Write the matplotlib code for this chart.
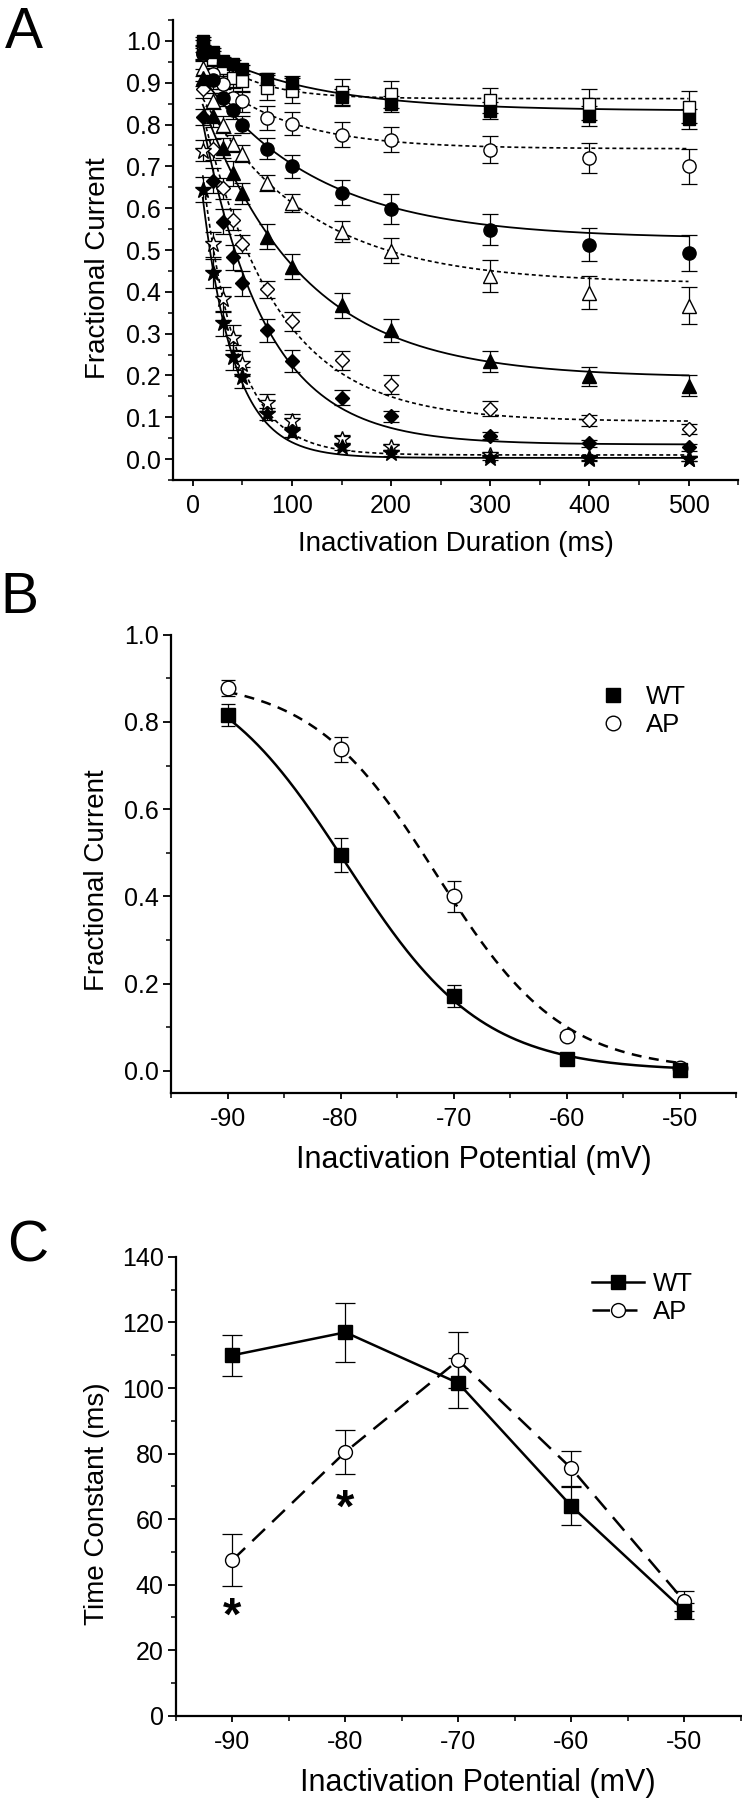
import numpy as np
import matplotlib
matplotlib.use("Agg")
import matplotlib.pyplot as plt
from matplotlib.lines import Line2D
from matplotlib.ticker import MultipleLocator, FormatStrFormatter

plt.rcParams['font.family'] = ['Liberation Sans', 'DejaVu Sans']
plt.rcParams['axes.unicode_minus'] = False

# --- panel A: fractional current vs inactivation duration ---
durations = [10, 20, 30, 40, 50, 75, 100, 150, 200, 300, 400, 500]

wt90 = [1.0, 0.974, 0.952, 0.944, 0.932, 0.909, 0.90, 0.866, 0.849, 0.833, 0.821, 0.813]
wt90_err = [0.01, 0.01, 0.01, 0.01, 0.01, 0.015, 0.015, 0.02, 0.02, 0.02, 0.024, 0.024]
ap90 = [0.988, 0.956, 0.936, 0.912, 0.904, 0.888, 0.881, 0.877, 0.872, 0.858, 0.848, 0.842]
ap90_err = [0.015, 0.02, 0.02, 0.025, 0.025, 0.03, 0.03, 0.033, 0.032, 0.03, 0.036, 0.038]
wt80 = [0.972, 0.906, 0.864, 0.834, 0.80, 0.742, 0.70, 0.637, 0.598, 0.549, 0.513, 0.493]
wt80_err = [0.015, 0.02, 0.02, 0.02, 0.02, 0.025, 0.028, 0.03, 0.035, 0.038, 0.04, 0.042]
ap80 = [0.968, 0.92, 0.896, 0.864, 0.856, 0.816, 0.802, 0.776, 0.764, 0.74, 0.72, 0.70]
ap80_err = [0.015, 0.02, 0.02, 0.025, 0.025, 0.028, 0.027, 0.03, 0.03, 0.033, 0.037, 0.042]
wt70 = [0.912, 0.82, 0.744, 0.684, 0.636, 0.532, 0.46, 0.368, 0.308, 0.234, 0.198, 0.176]
wt70_err = [0.02, 0.025, 0.025, 0.03, 0.025, 0.03, 0.03, 0.03, 0.028, 0.025, 0.022, 0.025]
ap70 = [0.935, 0.856, 0.80, 0.754, 0.73, 0.66, 0.613, 0.544, 0.498, 0.438, 0.398, 0.367]
ap70_err = [0.02, 0.02, 0.02, 0.02, 0.02, 0.02, 0.022, 0.025, 0.03, 0.038, 0.04, 0.045]
wt60 = [0.818, 0.666, 0.568, 0.4825, 0.42, 0.308, 0.234, 0.147, 0.102, 0.056, 0.038, 0.028]
wt60_err = [0.02, 0.03, 0.03, 0.03, 0.03, 0.028, 0.026, 0.018, 0.012, 0.008, 0.008, 0.008]
ap60 = [0.884, 0.741, 0.648, 0.572, 0.514, 0.406, 0.33, 0.236, 0.178, 0.121, 0.093, 0.072]
ap60_err = [0.02, 0.025, 0.025, 0.025, 0.022, 0.02, 0.023, 0.022, 0.023, 0.017, 0.013, 0.012]
wt50 = [0.644, 0.444, 0.325, 0.244, 0.196, 0.108, 0.064, 0.03, 0.014, 0.003, 0.0, 0.0]
wt50_err = [0.03, 0.035, 0.03, 0.03, 0.025, 0.015, 0.01, 0.008, 0.006, 0.005, 0.004, 0.004]
ap50 = [0.737, 0.514, 0.382, 0.29, 0.228, 0.135, 0.092, 0.048, 0.028, 0.009, 0.003, 0.0]
ap50_err = [0.025, 0.03, 0.03, 0.03, 0.03, 0.02, 0.015, 0.01, 0.006, 0.005, 0.005, 0.005]

# single exponential fits: plateau + amp * exp(-t / tau), tau taken from panel C
wt_plateau = [0.833, 0.527, 0.195, 0.035, 0.003]
wt_amp = [0.16, 0.419, 0.72, 0.9, 0.85]
ap_plateau = [0.862, 0.742, 0.42, 0.09, 0.01]
ap_amp = [0.152, 0.212, 0.485, 0.84, 0.89]

# --- panel B: steady-state inactivation ---
potentials = [-90, -80, -70, -60, -50]
wt_ss = [0.815, 0.495, 0.172, 0.028, 0.002]
wt_ss_err = [0.025, 0.04, 0.025, 0.006, 0.005]
ap_ss = [0.877, 0.737, 0.40, 0.081, 0.006]
ap_ss_err = [0.018, 0.029, 0.035, 0.008, 0.005]
# Boltzmann fits: amplitude, V1/2, slope
wt_boltz = (0.95, -79.5, 6.0)
ap_boltz = (0.90, -71.5, 5.56)

# --- panel C: time constants ---
wt_tau = [110, 117, 101.5, 64, 32]
wt_tau_err = [6.3, 9, 7.6, 5.8, 2.5]
ap_tau = [47.5, 80.5, 108.5, 75.5, 35]
ap_tau_err = [7.9, 6.7, 8.5, 5.3, 3]
signif_y = [30, 63]  # asterisk heights at -90 and -80

wt_series = [(wt90, wt90_err), (wt80, wt80_err), (wt70, wt70_err), (wt60, wt60_err), (wt50, wt50_err)]
ap_series = [(ap90, ap90_err), (ap80, ap80_err), (ap70, ap70_err), (ap60, ap60_err), (ap50, ap50_err)]
markers = ['s', 'o', '^', 'D', '*']
msizes = [8, 9.5, 10.5, 7, 12]


def style_axes(ax, tick_fs=18):
    for s in ['top', 'right']:
        ax.spines[s].set_visible(False)
    for s in ['left', 'bottom']:
        ax.spines[s].set_linewidth(1.6)
    ax.tick_params(axis='y', which='major', direction='out', length=6, width=1.3, labelsize=tick_fs, pad=3)
    ax.tick_params(axis='y', which='minor', direction='out', length=3.5, width=1.1)
    ax.tick_params(axis='x', which='major', direction='out', length=4, width=1.3, labelsize=tick_fs, pad=6)
    ax.tick_params(axis='x', which='minor', direction='out', length=3.5, width=1.1)


def panel_a(fig):
    ax = fig.add_axes([0.2332, 0.7333, 0.7615, 0.2556])
    tt = np.linspace(10, 500, 400)
    dots = (0, (2.4, 1.8))
    for i in range(5):
        p, a = ap_plateau[i], ap_amp[i]
        ax.plot(tt, p + a * np.exp(-tt / ap_tau[i]), color='black', lw=1.2, ls=dots, zorder=1)
        p, a = wt_plateau[i], wt_amp[i]
        ax.plot(tt, p + a * np.exp(-tt / wt_tau[i]), color='black', lw=1.3, ls='-', zorder=1)
    for i in range(5):
        y, e = ap_series[i]
        ax.errorbar(durations, y, yerr=e, fmt='none', ecolor='black', elinewidth=0.9,
                    capsize=5.5, capthick=0.9, zorder=2)
        ax.plot(durations, y, ls='none', marker=markers[i], ms=msizes[i], mfc='white',
                mec='black', mew=1.0, zorder=3)
        y, e = wt_series[i]
        ax.errorbar(durations, y, yerr=e, fmt='none', ecolor='black', elinewidth=0.9,
                    capsize=5.5, capthick=0.9, zorder=2)
        ax.plot(durations, y, ls='none', marker=markers[i], ms=msizes[i], mfc='black',
                mec='black', mew=1.0, zorder=4)
    ax.set_xlim(-20, 550)
    ax.set_ylim(-0.05, 1.05)
    ax.xaxis.set_major_locator(MultipleLocator(100))
    ax.xaxis.set_minor_locator(MultipleLocator(50))
    ax.yaxis.set_major_locator(MultipleLocator(0.1))
    ax.yaxis.set_minor_locator(MultipleLocator(0.05))
    ax.yaxis.set_major_formatter(FormatStrFormatter('%.1f'))
    style_axes(ax)
    ax.set_xlabel('Inactivation Duration (ms)', fontsize=20, va='center')
    ax.xaxis.set_label_coords(0.5, -0.139)
    ax.set_ylabel('Fractional Current', fontsize=20, va='center')
    ax.yaxis.set_label_coords(-0.133, 0.46)


def panel_b(fig):
    ax = fig.add_axes([0.2305, 0.3929, 0.7615, 0.2545])
    vv = np.linspace(-90, -50, 300)
    A, vh, k = wt_boltz
    ax.plot(vv, A / (1 + np.exp((vv - vh) / k)), color='black', lw=1.8, ls='-', zorder=1)
    A, vh, k = ap_boltz
    ax.plot(vv, A / (1 + np.exp((vv - vh) / k)), color='black', lw=1.8, ls=(0, (4, 3)), zorder=1)
    ax.errorbar(potentials, wt_ss, yerr=wt_ss_err, fmt='none', ecolor='black', elinewidth=0.9,
                capsize=5, capthick=0.9, zorder=2)
    ax.errorbar(potentials, ap_ss, yerr=ap_ss_err, fmt='none', ecolor='black', elinewidth=0.9,
                capsize=5, capthick=0.9, zorder=2)
    ax.plot(potentials, wt_ss, ls='none', marker='s', ms=10, mfc='black', mec='black', zorder=4)
    ax.plot(potentials, ap_ss, ls='none', marker='o', ms=10.5, mfc='white', mec='black', mew=1.0, zorder=3)
    ax.set_xlim(-95, -45)
    ax.set_ylim(-0.05, 1.0)
    ax.xaxis.set_major_locator(MultipleLocator(10))
    ax.xaxis.set_minor_locator(MultipleLocator(5))
    ax.yaxis.set_major_locator(MultipleLocator(0.2))
    ax.yaxis.set_minor_locator(MultipleLocator(0.1))
    ax.yaxis.set_major_formatter(FormatStrFormatter('%.1f'))
    style_axes(ax)
    h = [Line2D([], [], ls='none', marker='s', ms=10, mfc='black', mec='black'),
         Line2D([], [], ls='none', marker='o', ms=10.5, mfc='white', mec='black', mew=1.0)]
    ax.legend(h, ['WT', 'AP'], loc='upper left', bbox_to_anchor=(0.76, 0.89), frameon=False,
              fontsize=18.5, handlelength=1.0, handletextpad=0.78, labelspacing=0.15,
              borderpad=0, borderaxespad=0)
    ax.set_xlabel('Inactivation Potential (mV)', fontsize=22, va='center')
    ax.xaxis.set_label_coords(0.536, -0.147)
    ax.set_ylabel('Fractional Current', fontsize=20, va='center')
    ax.yaxis.set_label_coords(-0.131, 0.4645)


def panel_c(fig):
    ax = fig.add_axes([0.2372, 0.0468, 0.761, 0.2549])
    dash = (0, (7, 4))
    ax.errorbar(potentials, wt_tau, yerr=wt_tau_err, fmt='none', ecolor='black', elinewidth=0.9,
                capsize=7, capthick=0.9, zorder=2)
    ax.errorbar(potentials, ap_tau, yerr=ap_tau_err, fmt='none', ecolor='black', elinewidth=0.9,
                capsize=7, capthick=0.9, zorder=2)
    ax.plot(potentials, wt_tau, color='black', lw=1.8, ls='-', marker='s', ms=9.5,
            mfc='black', mec='black', zorder=4)
    ax.plot(potentials, ap_tau, color='black', lw=1.8, ls=dash, marker='o', ms=10,
            mfc='white', mec='black', mew=1.0, zorder=3)
    for v, y in zip(potentials[:2], signif_y):
        ax.text(v, y, '*', fontsize=34, fontweight='bold', ha='center', va='center')
    ax.set_xlim(-95, -45)
    ax.set_ylim(0, 140)
    ax.xaxis.set_major_locator(MultipleLocator(10))
    ax.xaxis.set_minor_locator(MultipleLocator(5))
    ax.yaxis.set_major_locator(MultipleLocator(20))
    ax.yaxis.set_minor_locator(MultipleLocator(10))
    style_axes(ax)
    h = [Line2D([], [], color='black', lw=1.8, ls='-', marker='s', ms=9.5, mfc='black', mec='black'),
         Line2D([], [], color='black', lw=1.8, ls=dash, marker='o', ms=10, mfc='white', mec='black', mew=1.0)]
    ax.legend(h, ['WT', 'AP'], loc='upper left', bbox_to_anchor=(0.737, 0.967), frameon=False,
              fontsize=18.5, handlelength=2.0, handletextpad=0.35, labelspacing=0.15,
              borderpad=0, borderaxespad=0)
    ax.set_xlabel('Inactivation Potential (mV)', fontsize=22, va='center')
    ax.xaxis.set_label_coords(0.535, -0.146)
    ax.set_ylabel('Time Constant (ms)', fontsize=20, va='center')
    ax.yaxis.set_label_coords(-0.14, 0.4617)


def main():
    fig = plt.figure(figsize=(7.42, 18), dpi=100)
    panel_a(fig)
    panel_b(fig)
    panel_c(fig)
    fig.text(0.0067, 1 - 48 / 1800, 'A', fontsize=41, va='baseline', ha='left')
    fig.text(0.0, 1 - 613 / 1800, 'B', fontsize=41, va='baseline', ha='left')
    fig.text(0.0094, 1 - 1261 / 1800, 'C', fontsize=41, va='baseline', ha='left')
    fig.savefig('out.png', dpi=100)


if __name__ == "__main__":
    main()
